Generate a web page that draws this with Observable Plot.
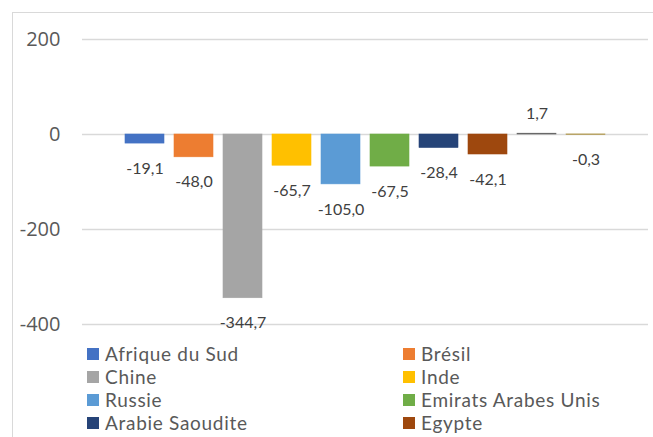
<!DOCTYPE html>
<html>
<head>
<meta charset="utf-8">
<script src="https://cdn.jsdelivr.net/npm/d3@7"></script>
<script src="https://cdn.jsdelivr.net/npm/@observablehq/plot@0.6"></script>
<style>
  html, body { margin: 0; padding: 0; background: #fff; overflow: hidden; width: 653px; height: 437px; }
  #frame { position: absolute; left: 12px; top: 12px; width: 700px; height: 500px; border: 1.5px solid #d9d9d9; box-sizing: border-box; }
  #chart { position: absolute; left: 0; top: 0; }
  #legend { position: absolute; left: 0; top: 342px; width: 653px; height: 92px; overflow: hidden; display: grid; grid-template-columns: 316px 250px; padding-left: 87px; row-gap: 0; font-family: Lato, sans-serif; font-size: 19px; line-height: 22px; letter-spacing: 0.7px; color: #595959; }
  .item { display: flex; align-items: center; height: 23px; white-space: nowrap; }
  .sw { width: 12px; height: 12px; margin-right: 6px; flex: none; }
</style>
</head>
<body>
<div id="frame"></div>
<div id="chart"></div>
<div id="legend"></div>
<script>
const countries = ["Afrique du Sud", "Brésil", "Chine", "Inde", "Russie", "Emirats Arabes Unis", "Arabie Saoudite", "Egypte", "Ethiopie", "Iran"];
const values = [-19.1, -48.0, -344.7, -65.7, -105.0, -67.5, -28.4, -42.1, 1.7, -0.3];
const colors = ["#4472C4", "#ED7D31", "#A5A5A5", "#FFC000", "#5B9BD5", "#70AD47", "#264478", "#9E480E", "#636363", "#997300"];
const yTicks = [-400, -200, 0, 200];
// legend rows visible inside the picture (the remaining entries fall below the cropped frame)
const legendVisible = 8;

const data = countries.map((c, i) => ({country: c, value: values[i]}));
const fmt = v => v.toFixed(1).replace(".", ",");

const chart = Plot.plot({
  width: 653,
  height: 340,
  marginLeft: 82,
  marginRight: 5,
  marginTop: 39,
  marginBottom: 16,
  style: {fontFamily: "Lato, sans-serif", color: "#595959", background: "transparent", overflow: "visible"},
  x: {domain: countries, axis: null, insetLeft: 37, insetRight: 37, paddingInner: 0.2, paddingOuter: 0.1},
  y: {domain: [-400, 200]},
  color: {domain: countries, range: colors},
  marks: [
    Plot.ruleY(yTicks, {stroke: "#d9d9d9", strokeWidth: 1.5}),
    Plot.axisY({ticks: yTicks, tickSize: 0, tickPadding: 22, tickFormat: d => String(d), fontSize: 20, fontFamily: "Open Sans, sans-serif", fill: "#595959", label: null}),
    Plot.barY(data, {x: "country", y: "value", fill: "country", stroke: "country", strokeWidth: 0.6}),
    Plot.text(data.filter(d => d.value < 0), {x: "country", y: "value", text: d => fmt(d.value), dy: 25, fontSize: 16, fill: "#404040", lineAnchor: "middle"}),
    Plot.text(data.filter(d => d.value >= 0), {x: "country", y: "value", text: d => fmt(d.value), dy: -20, fontSize: 16, fill: "#404040", lineAnchor: "middle"})
  ]
});
document.getElementById("chart").appendChild(chart);

const legend = document.getElementById("legend");
countries.slice(0, legendVisible).forEach((c, i) => {
  const item = document.createElement("div");
  item.className = "item";
  const sw = document.createElement("span");
  sw.className = "sw";
  sw.style.background = colors[i];
  const t = document.createElement("span");
  t.textContent = c;
  item.appendChild(sw);
  item.appendChild(t);
  legend.appendChild(item);
});
</script>
</body>
</html>
